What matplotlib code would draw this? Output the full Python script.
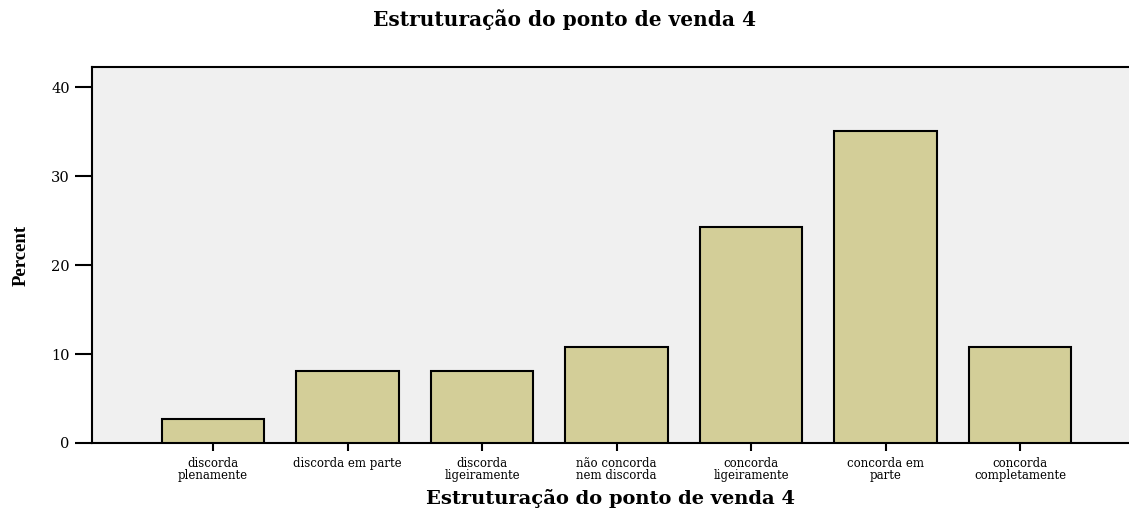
import matplotlib
matplotlib.use("Agg")
import matplotlib.pyplot as plt

categories = ["discorda\nplenamente", "discorda em parte", "discorda\nligeiramente",
              "não concorda\nnem discorda", "concorda\nligeiramente", "concorda em\nparte",
              "concorda\ncompletamente"]
percent = [2.7, 8.1, 8.1, 10.8, 24.3, 35.1, 10.8]
yticks = [0, 10, 20, 30, 40]

plt.rcParams['font.family'] = ['DejaVu Serif']

fig = plt.figure(figsize=(11.29, 5.08), dpi=100)
ax = fig.add_axes([92/1129, 1-443/508, 1-92/1129, (443-67)/508])
ax.set_facecolor('#f0f0f0')
x = list(range(len(categories)))
ax.bar(x, percent, width=0.76, color='#d3ce98', edgecolor='black', linewidth=1.5, zorder=3)
ax.set_xlim(-0.9, 6.81)
ax.set_ylim(0, 42.25)
ax.set_yticks(yticks)
ax.set_yticklabels([str(v) for v in yticks], fontsize=10.5)
ax.set_xticks(x)
ax.set_xticklabels(categories, fontsize=8.5, linespacing=0.88)
ax.tick_params(axis='y', length=12, width=1.5, pad=4)
ax.tick_params(axis='x', length=6, width=1.5, pad=4)
for s in ['left', 'bottom', 'top']:
    ax.spines[s].set_linewidth(1.5)
ax.spines['right'].set_visible(False)
ax.set_ylabel('Percent', fontsize=13.5, fontweight='bold',
              family=['Liberation Serif'], va='center')
ax.yaxis.set_label_coords((21 - 92) / 1037, 0.5)
ax.set_xlabel('Estruturação do ponto de venda 4', fontsize=14, fontweight='bold', va='center')
ax.xaxis.set_label_coords(0.5, (443 - 499) / 376)
fig.text(0.5, 1-20/508, 'Estruturação do ponto de venda 4', fontsize=14.5, fontweight='bold',
         ha='center', va='center')
fig.savefig('out.png', dpi=100)
